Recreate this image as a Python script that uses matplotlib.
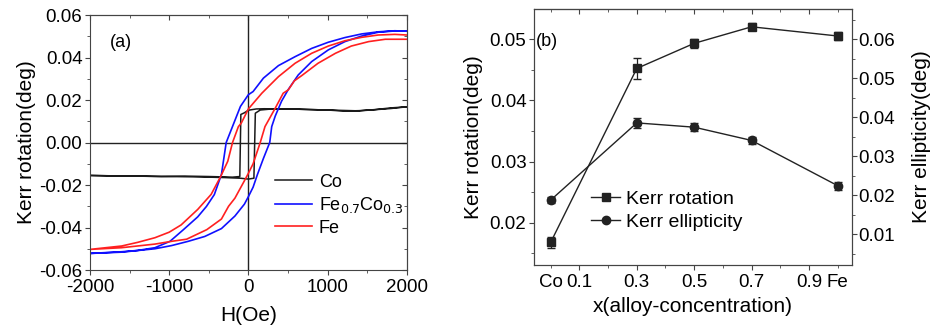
import numpy as np
import matplotlib
matplotlib.use("Agg")
import matplotlib.pyplot as plt
from matplotlib.ticker import MultipleLocator, FixedLocator, FixedFormatter, NullFormatter
from matplotlib.lines import Line2D

plt.rcParams['font.family'] = ['Liberation Sans', 'DejaVu Sans']
plt.rcParams['axes.unicode_minus'] = False

# ---- (a) hysteresis loops: descending branch then ascending branch ----
co_h = [2000, 1800, 1600, 1400, 1200, 1000, 800, 600, 400, 200, 100, 0, -50, -95,
        -108, -200, -500, -800, -1100, -1400, -1700, -2000,
        -1500, -1000, -600, -300, -100, 0, 70, 88, 150, 300, 600, 1000, 1400, 1800, 2000]
co_k = [0.0168, 0.0163, 0.0155, 0.0150, 0.0148, 0.0153, 0.0155, 0.0157, 0.0158, 0.0159,
        0.0158, 0.0152, 0.0140, 0.0132,
        -0.0160, -0.0163, -0.0160, -0.0158, -0.0160, -0.0158, -0.0157, -0.0155,
        -0.0158, -0.0160, -0.0162, -0.0165, -0.0168, -0.0172, -0.0168, 0.0138, 0.0153,
        0.0158, 0.0157, 0.0153, 0.0149, 0.0160, 0.0168]

feco_h = [2000, 1850, 1640, 1430, 1220, 1010, 800, 590, 380, 190, 60, 0, -100, -190,
          -280, -340, -430, -530, -640, -820, -990, -1180, -1400, -1600, -1800, -2000,
          -1600, -1180, -970, -760, -550, -340, -170, -50, 0, 60, 115, 190, 270, 295,
          340, 380, 420, 505, 630, 800, 1010, 1220, 1430, 1640, 1850, 2000]
feco_k = [0.0524, 0.0526, 0.0521, 0.0511, 0.0494, 0.0472, 0.0443, 0.0404, 0.0362,
          0.0303, 0.0240, 0.0225, 0.0170, 0.0085, 0.0, -0.0150, -0.0245, -0.0301,
          -0.0350, -0.0410, -0.0465, -0.0495, -0.0508, -0.0514, -0.0518, -0.0522,
          -0.0516, -0.0500, -0.0485, -0.0465, -0.0442, -0.0405, -0.0346, -0.0290,
          -0.0255, -0.0210, -0.0150, -0.0075, 0.0, 0.0075, 0.0125, 0.0160, 0.0195,
          0.0250, 0.0318, 0.0381, 0.0436, 0.0475, 0.0501, 0.0519, 0.0525, 0.0524]

fe_h = [2000, 1850, 1640, 1430, 1220, 1010, 800, 590, 380, 170, 0, -90, -126, -200,
        -260, -350, -470, -640, -850, -1000, -1180, -1400, -1600, -2000,
        -1600, -1180, -970, -780, -525, -340, -250, -170, -50, 0, 60, 150, 210, 340,
        440, 505, 580, 674, 880, 1100, 1300, 1520, 1730, 2000]
fe_k = [0.0506, 0.0509, 0.0506, 0.0495, 0.0479, 0.0454, 0.0420, 0.0373, 0.0310,
        0.0232, 0.0158, 0.0091, 0.0075, 0.0, -0.0088, -0.0160, -0.0244, -0.0315,
        -0.0388, -0.0422, -0.0448, -0.0470, -0.0487, -0.0503,
        -0.0495, -0.0478, -0.0465, -0.0455, -0.0410, -0.0360, -0.0300, -0.0262,
        -0.0180, -0.0145, -0.0100, 0.0, 0.0075, 0.0162, 0.0232, 0.0248, 0.0290,
        0.0315, 0.0373, 0.0420, 0.0454, 0.0475, 0.0486, 0.0486]

# ---- (b) Kerr rotation / ellipticity vs concentration ----
conc = [0.0, 0.3, 0.5, 0.7, 1.0]
rot = [0.0168, 0.0452, 0.0493, 0.0520, 0.0505]
rot_err = [0.0009, 0.0017, 0.0007, 0.0006, 0.0007]
ell = [0.0187, 0.0385, 0.0374, 0.0340, 0.0224]
ell_err = [0.0008, 0.0012, 0.0011, 0.0008, 0.0010]
major_pos = [0.1, 0.3, 0.5, 0.7, 0.9]
major_lab = ["0.1", "0.3", "0.5", "0.7", "0.9"]
minor_pos = [0.0, 0.2, 0.4, 0.6, 0.8, 1.0]
minor_lab = ["Co", "", "", "", "", "Fe"]

fig = plt.figure(figsize=(9.33, 3.29), dpi=100)
spine_c = '#444444'
ink = '#222222'
MAJ, MIN = 3.5, 2.0


def style(ax, direction='out'):
    for s in ax.spines.values():
        s.set_color(spine_c)
    ax.tick_params(which='both', direction=direction, colors=spine_c,
                   labelcolor='black', labelsize=13.5)
    ax.tick_params(which='major', length=MAJ)
    ax.tick_params(which='minor', length=MIN)


# (a)
ax = fig.add_axes([0.0965, 0.1793, 0.3394, 0.775])
ax.axhline(0, color=ink, lw=1)
ax.axvline(0, color=ink, lw=1)
ax.plot(co_h, co_k, color='#1a1a1a', lw=1.1, label='Co')
ax.plot(feco_h, feco_k, color='#1010ff', lw=1.2, label='Fe$_{0.7}$Co$_{0.3}$')
ax.plot(fe_h, fe_k, color='#ff2020', lw=1.2, label='Fe')
ax.set_xlim(-2000, 2000)
ax.set_ylim(-0.06, 0.06)
ax.xaxis.set_major_locator(MultipleLocator(1000))
ax.xaxis.set_minor_locator(MultipleLocator(500))
ax.yaxis.set_major_locator(MultipleLocator(0.02))
ax.yaxis.set_minor_locator(MultipleLocator(0.01))
ax.yaxis.set_major_formatter(plt.FuncFormatter(lambda v, p: f"{v:.2f}"))
style(ax)
ax.tick_params(axis='x', which='both', pad=3)
ax.tick_params(axis='y', which='major', pad=2)

# mirrored top/right ticks pointing inward
atop = ax.secondary_xaxis('top')
atop.xaxis.set_major_locator(MultipleLocator(1000))
atop.xaxis.set_minor_locator(MultipleLocator(500))
atop.xaxis.set_major_formatter(NullFormatter())
style(atop, 'in')
aright = ax.secondary_yaxis('right')
aright.yaxis.set_major_locator(MultipleLocator(0.02))
aright.yaxis.set_minor_locator(MultipleLocator(0.01))
aright.yaxis.set_major_formatter(NullFormatter())
style(aright, 'in')

ax.set_xlabel("H(Oe)", fontsize=15, labelpad=7)
ax.set_ylabel("Kerr rotation(deg)", fontsize=15, labelpad=2)
ax.text(0.062, 0.892, "(a)", transform=ax.transAxes, fontsize=13, va='center')
ax.legend(loc='upper left', bbox_to_anchor=(0.54, 0.435), frameon=False, fontsize=13,
          handlelength=2.0, handletextpad=0.4, labelspacing=0.25, borderpad=0.3)

# (b)
bx = fig.add_axes([0.5724, 0.1945, 0.3408, 0.778])
bx2 = bx.twinx()
bx.errorbar(conc, rot, yerr=rot_err, color=ink, lw=1, marker='s', ms=6,
            capsize=3, elinewidth=0.9)
bx2.errorbar(conc, ell, yerr=ell_err, color=ink, lw=1, marker='o', ms=6,
             capsize=3, elinewidth=0.9)
bx.set_xlim(-0.058, 1.05)
bx.set_ylim(0.0131, 0.0549)
bx2.set_ylim(0.00205, 0.0677)
bx.xaxis.set_major_locator(FixedLocator(major_pos))
bx.xaxis.set_major_formatter(FixedFormatter(major_lab))
bx.xaxis.set_minor_locator(FixedLocator(minor_pos))
bx.xaxis.set_minor_formatter(FixedFormatter(minor_lab))
bx.yaxis.set_major_locator(MultipleLocator(0.01))
bx.yaxis.set_minor_locator(MultipleLocator(0.005))
bx2.yaxis.set_major_locator(MultipleLocator(0.01))
bx2.yaxis.set_minor_locator(MultipleLocator(0.005))
bx.yaxis.set_major_formatter(plt.FuncFormatter(lambda v, p: f"{v:.2f}"))
bx2.yaxis.set_major_formatter(plt.FuncFormatter(lambda v, p: f"{v:.2f}"))
style(bx)
style(bx2)
bx.tick_params(axis='x', which='major', pad=3)
bx.tick_params(axis='x', which='minor', pad=3 + (MAJ - MIN))
bx.tick_params(axis='y', which='major', pad=2)
bx2.tick_params(axis='y', which='major', pad=1)
btop = bx.secondary_xaxis('top')
btop.xaxis.set_major_locator(FixedLocator(major_pos))
btop.xaxis.set_minor_locator(FixedLocator(minor_pos))
btop.xaxis.set_major_formatter(NullFormatter())
btop.xaxis.set_minor_formatter(NullFormatter())
style(btop, 'in')
bx.set_xlabel("x(alloy-concentration)", fontsize=15, labelpad=4.5)
bx.set_ylabel("Kerr rotation(deg)", fontsize=15, labelpad=5)
bx2.set_ylabel("Kerr ellipticity(deg)", fontsize=15, labelpad=12)
bx.text(0.005, 0.875, "(b)", transform=bx.transAxes, fontsize=13, va='center')
handles = [Line2D([], [], color=ink, lw=1, marker='s', ms=6),
           Line2D([], [], color=ink, lw=1, marker='o', ms=6)]
bx.legend(handles, ['Kerr rotation', 'Kerr ellipticity'], loc='center left',
          bbox_to_anchor=(0.125, 0.212), frameon=False, fontsize=14, handlelength=1.5,
          handletextpad=0.3, labelspacing=0.3)

fig.savefig("out.png", dpi=100)
